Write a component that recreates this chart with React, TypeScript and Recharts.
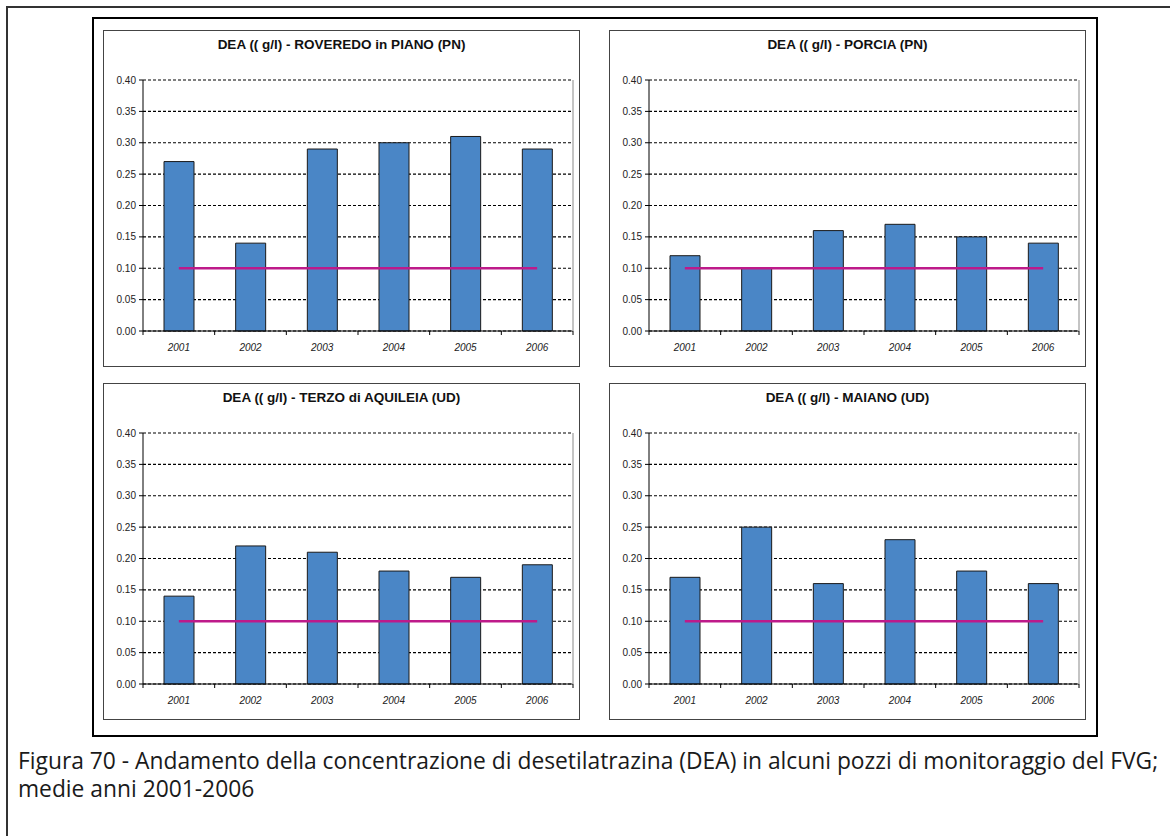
import React from 'react';
import { ComposedChart, Bar, Line, XAxis, YAxis, CartesianGrid } from 'recharts';

const YEARS = ['2001', '2002', '2003', '2004', '2005', '2006'];
const ROVEREDO = [0.27, 0.14, 0.29, 0.3, 0.31, 0.29];
const PORCIA = [0.12, 0.1, 0.16, 0.17, 0.15, 0.14];
const TERZO = [0.14, 0.22, 0.21, 0.18, 0.17, 0.19];
const MAIANO = [0.17, 0.25, 0.16, 0.23, 0.18, 0.16];
const LIMIT = [0.1, 0.1, 0.1, 0.1, 0.1, 0.1];
const Y_TICKS = [0, 0.05, 0.1, 0.15, 0.2, 0.25, 0.3, 0.35, 0.4];

const TITLES = [
  'DEA (( g/l) - ROVEREDO in PIANO (PN)',
  'DEA (( g/l) - PORCIA (PN)',
  'DEA (( g/l) - TERZO di AQUILEIA (UD)',
  'DEA (( g/l) - MAIANO (UD)',
];
const CAPTION_1 =
  'Figura 70 - Andamento della concentrazione di desetilatrazina (DEA) in alcuni pozzi di monitoraggio del FVG;';
const CAPTION_2 = 'medie anni 2001-2006';

const FONT = '"Liberation Sans", Arial, sans-serif';
const PANEL_W = 477;
const PANEL_H = 337;
const INNER_W = PANEL_W - 2;
const INNER_H = PANEL_H - 2;
const Y_AXIS_W = 39;
const RIGHT_W = 1;
const MARGIN_R = 5;
const PLOT_W = INNER_W - Y_AXIS_W - RIGHT_W - MARGIN_R;
const HALF_BAND = PLOT_W / YEARS.length / 2;

const XTick = (props: any) => {
  const { x, y, payload, index } = props;
  const half = payload && payload.offset ? payload.offset : HALF_BAND;
  const last = index === YEARS.length - 1;
  return (
    <g>
      <line x1={x - half} x2={x - half} y1={y} y2={y + 4} stroke="#000" strokeWidth={1} />
      {last && <line x1={x + half} x2={x + half} y1={y} y2={y + 4} stroke="#000" strokeWidth={1} />}
      <text
        x={x}
        y={y + 19.5}
        textAnchor="middle"
        fontFamily={FONT}
        fontSize={10}
        fontStyle="italic"
        fill="#222"
      >
        {payload.value}
      </text>
    </g>
  );
};

function Panel({ left, top, title, values }: { left: number; top: number; title: string; values: number[] }) {
  const data = YEARS.map((year, i) => ({ year, value: values[i], limit: LIMIT[i] }));
  return (
    <div
      style={{
        position: 'absolute',
        left,
        top,
        width: PANEL_W,
        height: PANEL_H,
        border: '1px solid #444',
        boxSizing: 'border-box',
        background: '#fff',
      }}
    >
      <div
        style={{
          position: 'absolute',
          left: 0,
          top: 6,
          width: '100%',
          textAlign: 'center',
          fontFamily: FONT,
          fontWeight: 'bold',
          fontSize: 13.5,
          color: '#111',
          whiteSpace: 'pre',
        }}
      >
        {title}
      </div>
      <div style={{ position: 'absolute', left: 0, top: 0 }}>
        <ComposedChart
          width={INNER_W}
          height={INNER_H}
          data={data}
          margin={{ top: 49, right: MARGIN_R, bottom: 0, left: 0 }}
        >
          <CartesianGrid vertical={false} stroke="#000" strokeDasharray="3 2" strokeWidth={1.2} />
          <XAxis
            dataKey="year"
            height={35}
            axisLine={{ stroke: '#000', strokeWidth: 1 }}
            tickLine={false}
            tickSize={0}
            tickMargin={0}
            tick={<XTick />}
            interval={0}
          />
          <YAxis
            width={Y_AXIS_W}
            domain={[0, 0.4]}
            ticks={Y_TICKS}
            interval={0}
            tickFormatter={(v: number) => v.toFixed(2)}
            axisLine={{ stroke: '#000', strokeWidth: 1 }}
            tickLine={{ stroke: '#000' }}
            tickSize={4}
            tickMargin={3}
            tick={{ fontFamily: FONT, fontSize: 10, fill: '#222' }}
          />
          <YAxis
            yAxisId="r"
            orientation="right"
            width={RIGHT_W}
            domain={[0, 0.4]}
            tick={false}
            tickLine={false}
            axisLine={{ stroke: '#b0b0b0', strokeWidth: 1.5 }}
          />
          <Bar dataKey="value" fill="#4A86C6" stroke="#1a1a1a" strokeWidth={1} barSize={30} isAnimationActive={false} />
          <Line
            dataKey="limit"
            stroke="#BE1A8A"
            strokeWidth={2.5}
            dot={false}
            activeDot={false}
            isAnimationActive={false}
          />
        </ComposedChart>
      </div>
    </div>
  );
}

export default function App() {
  return (
    <div
      style={{
        position: 'absolute',
        left: 0,
        top: 0,
        width: 1170,
        height: 836,
        overflow: 'hidden',
        background: '#fff',
      }}
    >
      <div
        style={{
          position: 'absolute',
          left: 6,
          top: 6,
          width: 1300,
          height: 1000,
          borderTop: '2px solid #333',
          borderLeft: '2px solid #333',
        }}
      />
      <div
        style={{
          position: 'absolute',
          left: 92,
          top: 17,
          width: 1006,
          height: 720,
          border: '2.5px solid #000',
          boxSizing: 'border-box',
        }}
      />
      <Panel left={103} top={30} title={TITLES[0]} values={ROVEREDO} />
      <Panel left={609} top={30} title={TITLES[1]} values={PORCIA} />
      <Panel left={103} top={383} title={TITLES[2]} values={TERZO} />
      <Panel left={609} top={383} title={TITLES[3]} values={MAIANO} />
      <div
        style={{
          position: 'absolute',
          left: 18,
          top: 747,
          width: 1160,
          fontFamily: '"Open Sans", "Noto Sans", sans-serif',
          fontSize: 22.8,
          lineHeight: '28px',
          color: '#1a1a1a',
          whiteSpace: 'pre',
        }}
      >
        {CAPTION_1}
        {'\n'}
        {CAPTION_2}
      </div>
    </div>
  );
}
